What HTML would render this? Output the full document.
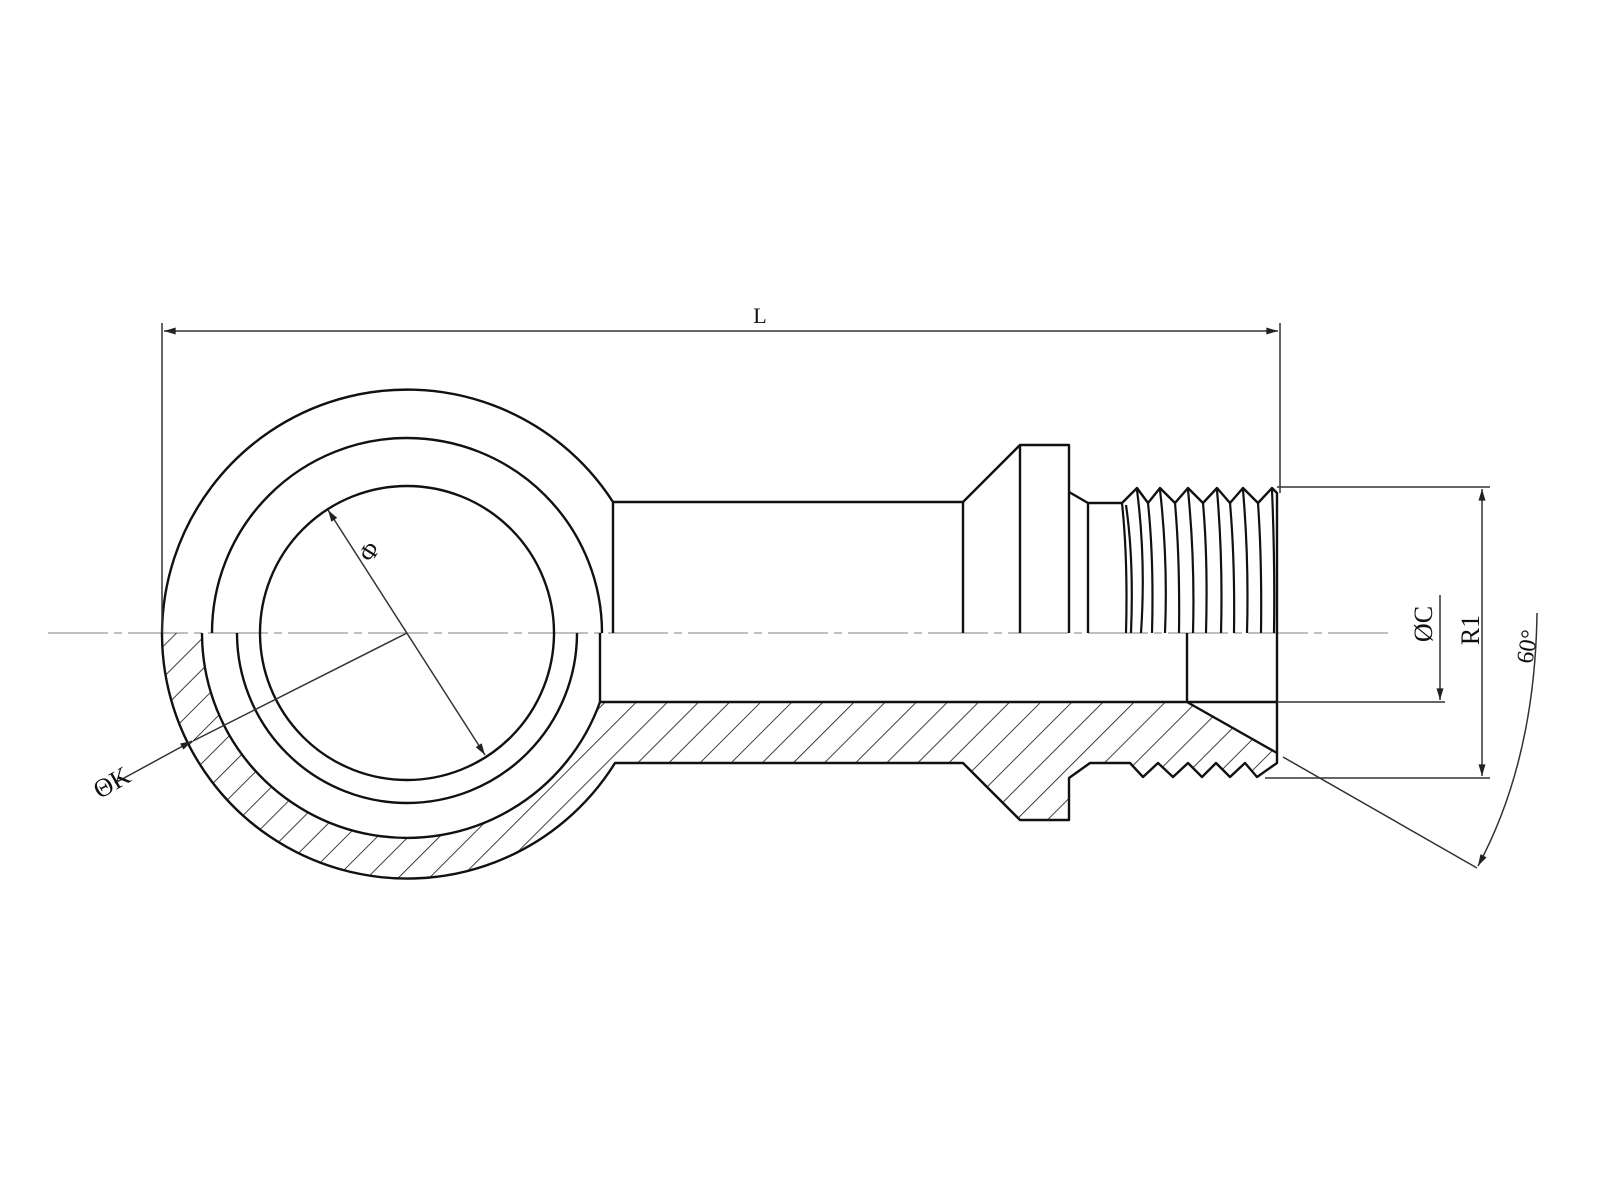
<!DOCTYPE html>
<html><head><meta charset="utf-8"><style>
html,body{margin:0;padding:0;background:#fff;}
svg{display:block;}
text{font-family:"Liberation Serif",serif;fill:#111;}
</style></head><body>
<svg width="1600" height="1200" viewBox="0 0 1600 1200" xmlns="http://www.w3.org/2000/svg">
<defs>
<pattern id="h" patternUnits="userSpaceOnUse" width="22" height="22" patternTransform="rotate(45)">
<line x1="0" y1="0" x2="0" y2="22" stroke="#111" stroke-width="1.6"/>
</pattern>
<marker id="a" viewBox="0 0 10 6" refX="10" refY="3" markerWidth="14" markerHeight="7" markerUnits="userSpaceOnUse" orient="auto-start-reverse">
<path d="M0,0 L10,3 L0,6 Z" fill="#222"/>
</marker>
</defs>

<line x1="48" y1="633" x2="1390" y2="633" stroke="#aaa" stroke-width="1.5" stroke-dasharray="60,6,8,6"/>

<path d="M162,633 L202,633 A205,205 0 0 0 600,702 L1187,702 L1277,753 L1277,763 L1257,777 L1245,763 L1230,777 L1216,763 L1202,777 L1188,763 L1173,777 L1158,763 L1143,777 L1130,763 L1122,763 L1090,763 L1069,778 L1069,820 L1020,820 L963,763 L615,763 A245,245 0 0 1 162,633 Z" fill="url(#h)" stroke="none"/>
<path d="M202,633 A205,205 0 0 0 600,702 L1187,702 L1277,753 L1277,763 L1257,777 L1245,763 L1230,777 L1216,763 L1202,777 L1188,763 L1173,777 L1158,763 L1143,777 L1130,763 L1122,763 L1090,763 L1069,778 L1069,820 L1020,820 L963,763 L615,763 A245,245 0 0 1 162,633" fill="none" stroke="#111" stroke-width="2.4" stroke-linejoin="round"/>

<g fill="none" stroke="#111" stroke-width="2.4" stroke-linejoin="round">
<path d="M162,633 A245,245 0 0 1 613,502"/>
<path d="M212,633 A195,195 0 0 1 602,633"/>
<circle cx="407" cy="633" r="147"/>
<path d="M237,633 A170,170 0 0 0 577,633"/>
<line x1="600" y1="633" x2="600" y2="702"/>
<path d="M613,633 L613,502 L963,502 L963,633"/>
<path d="M963,502 L1020,445 L1069,445 L1069,633"/>
<line x1="1020" y1="445" x2="1020" y2="633"/>
<path d="M1069,492 L1088,503 L1088,633"/>
<path d="M1088,503 L1122,503 L1137,488 L1148,503 L1160,488 L1175,503 L1188,488 L1203,503 L1217,488 L1230,503 L1243,488 L1258,503 L1272,488 L1277,493 L1277,753"/>
<line x1="1187" y1="633" x2="1187" y2="702"/>
<line x1="1277" y1="702" x2="1187" y2="702"/>
</g>
<g fill="none" stroke="#111" stroke-width="2.2">
<path d="M1122,503 Q1128,560 1126,633"/>
<path d="M1126,505 Q1134,560 1131,633"/>
<path d="M1137,490 Q1146,560 1141,633"/>
<path d="M1148,503 Q1154,560 1152,633"/>
<path d="M1160,490 Q1168,560 1165,633"/>
<path d="M1175,503 Q1180,560 1179,633"/>
<path d="M1188,490 Q1195,560 1193,633"/>
<path d="M1203,503 Q1208,560 1206,633"/>
<path d="M1217,490 Q1223,560 1221,633"/>
<path d="M1230,503 Q1235,560 1234,633"/>
<path d="M1243,490 Q1249,560 1247,633"/>
<path d="M1258,503 Q1262,560 1261,633"/>
<path d="M1272,490 Q1275,560 1274,633"/>
</g>

<g stroke="#333" stroke-width="1.5" fill="none">
<line x1="162" y1="323" x2="162" y2="633"/>
<line x1="1280" y1="323" x2="1280" y2="493"/>
<line x1="164" y1="331" x2="1278" y2="331" marker-start="url(#a)" marker-end="url(#a)"/>
<line x1="1277" y1="487" x2="1490" y2="487"/>
<line x1="1265" y1="778" x2="1490" y2="778"/>
<line x1="1482" y1="489" x2="1482" y2="776" marker-start="url(#a)" marker-end="url(#a)"/>
<line x1="1277" y1="702" x2="1445" y2="702"/>
<line x1="1440" y1="595" x2="1440" y2="700" marker-end="url(#a)"/>
<line x1="1283" y1="757" x2="1477" y2="868"/>
<path d="M1537,613 Q1535,760 1478,866" marker-end="url(#a)"/>
<line x1="328" y1="510" x2="485" y2="755" marker-start="url(#a)" marker-end="url(#a)"/>
<line x1="407" y1="633" x2="193" y2="741"/>
<line x1="115" y1="783" x2="192" y2="741" marker-end="url(#a)"/>
</g>

<text x="760" y="323" font-size="22" text-anchor="middle">L</text>
<text x="0" y="0" font-size="26" text-anchor="middle" transform="translate(1432,624) rotate(-90)">ØC</text>
<text x="0" y="0" font-size="26" text-anchor="middle" transform="translate(1479,630) rotate(-90)">R1</text>
<text x="0" y="0" font-size="24" text-anchor="middle" transform="translate(1535,648) rotate(-80)">60°</text>
<text x="0" y="0" font-size="24" text-anchor="middle" transform="translate(376,556) rotate(-58)">Φ</text>
<text x="0" y="0" font-size="26" text-anchor="middle" transform="translate(116,790) rotate(-30)">ΘK</text>
</svg>
</body></html>
